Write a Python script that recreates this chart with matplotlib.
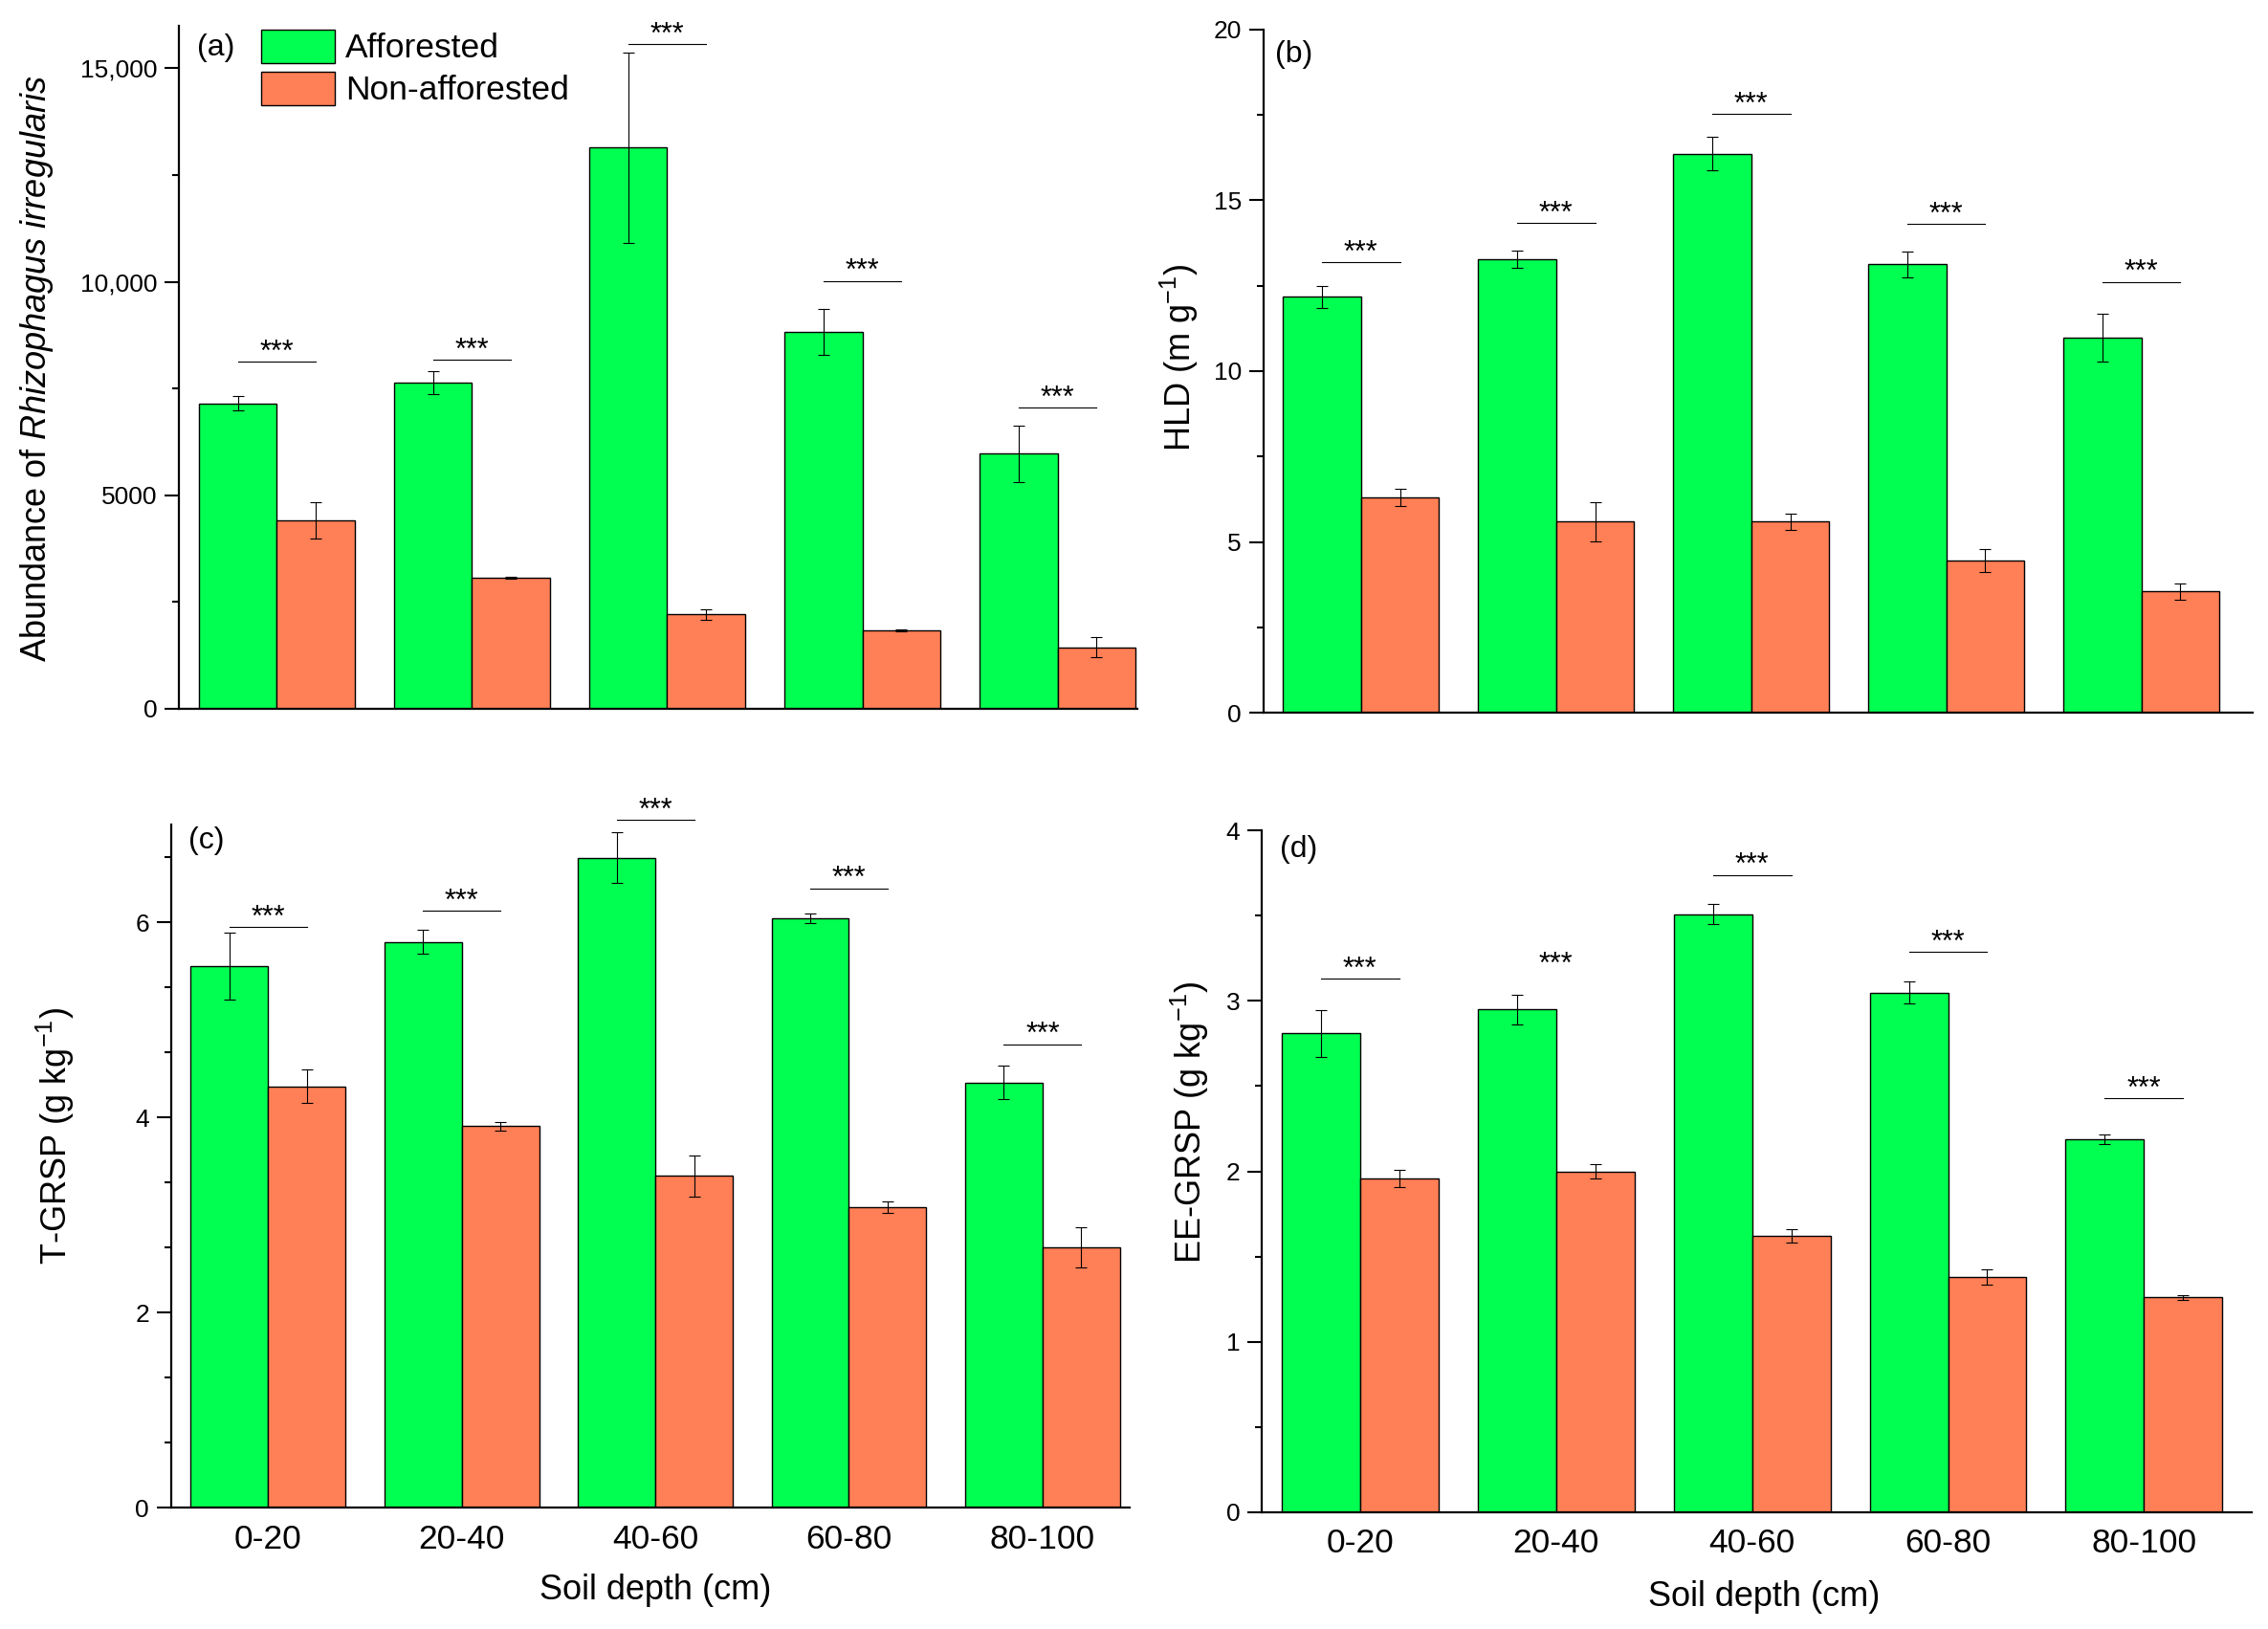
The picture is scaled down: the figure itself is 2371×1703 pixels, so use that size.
import matplotlib
matplotlib.use('Agg')
import matplotlib.pyplot as plt
from matplotlib.ticker import MultipleLocator, FixedLocator, FixedFormatter
import numpy as np

plt.rcParams['font.family'] = ['Liberation Sans', 'DejaVu Sans']
plt.rcParams['mathtext.fontset'] = 'custom'
plt.rcParams['mathtext.rm'] = 'Liberation Sans'
plt.rcParams['mathtext.it'] = 'Liberation Sans:italic'
plt.rcParams['mathtext.bf'] = 'Liberation Sans:bold'

# ---------------- data ----------------
depths = ['0-20', '20-40', '40-60', '60-80', '80-100']
series = ['Afforested', 'Non-afforested']
sig_label = '***'

# (a) Abundance of Rhizophagus irregularis
abund_aff = [7150, 7640, 13140, 8830, 5970]
abund_aff_se = [170, 260, 2230, 540, 670]
abund_non = [4410, 3070, 2210, 1840, 1440]
abund_non_se = [430, 30, 125, 20, 235]
abund_sig = [8120, 8180, 15560, 10020, 7060]

# (b) HLD
hld_aff = [12.17, 13.28, 16.36, 13.13, 10.98]
hld_aff_se = [0.33, 0.26, 0.49, 0.38, 0.70]
hld_non = [6.30, 5.59, 5.60, 4.46, 3.55]
hld_non_se = [0.26, 0.57, 0.24, 0.34, 0.24]
hld_sig = [13.18, 14.34, 17.52, 14.31, 12.61]

# (c) T-GRSP
tgrsp_aff = [5.55, 5.80, 6.66, 6.04, 4.36]
tgrsp_aff_se = [0.34, 0.12, 0.26, 0.05, 0.17]
tgrsp_non = [4.32, 3.91, 3.40, 3.08, 2.67]
tgrsp_non_se = [0.17, 0.045, 0.21, 0.055, 0.21]
tgrsp_sig = [5.95, 6.12, 7.05, 6.35, 4.75]

# (d) EE-GRSP
ee_aff = [2.81, 2.95, 3.51, 3.05, 2.19]
ee_aff_se = [0.137, 0.087, 0.058, 0.063, 0.028]
ee_non = [1.96, 2.00, 1.62, 1.38, 1.26]
ee_non_se = [0.05, 0.04, 0.038, 0.046, 0.014]
ee_sig = [3.13, 3.16, 3.74, 3.29, 2.43]
ee_sig_line = [True, False, True, True, True]

GREEN = '#00FF50'
CORAL = '#FF7F56'

fig = plt.figure(figsize=(23.71, 17.03), dpi=100)


def panel(rect, aff, aff_se, non, non_se, sig, ylim, major, minor, ylabel,
          letter, xmax, show_x, ylab_pos, letter_pos, sig_line=None,
          yticklabels=None):
    ax = fig.add_axes(rect)
    x = np.arange(len(depths))
    w = 0.4
    b1 = ax.bar(x - w / 2, aff, w, color=GREEN, edgecolor='black',
                linewidth=1.0, zorder=2, label=series[0])
    b2 = ax.bar(x + w / 2, non, w, color=CORAL, edgecolor='black',
                linewidth=1.0, zorder=2, label=series[1])
    ax.errorbar(x - w / 2, aff, yerr=aff_se, fmt='none', ecolor='black',
                elinewidth=0.8, capsize=4.5, capthick=0.8, zorder=3)
    ax.errorbar(x + w / 2, non, yerr=non_se, fmt='none', ecolor='black',
                elinewidth=0.8, capsize=4.5, capthick=0.8, zorder=3)
    for i, s in enumerate(sig):
        if sig_line is None or sig_line[i]:
            ax.plot([x[i] - w / 2, x[i] + w / 2], [s, s], color='black',
                    lw=0.8, clip_on=False, zorder=3)
        ax.annotate(sig_label, (x[i], s), xytext=(0, 1),
                    textcoords='offset points', ha='center', va='baseline',
                    fontsize=22, annotation_clip=False)
    ax.set_xlim(-0.5, xmax)
    ax.set_ylim(*ylim)
    ax.yaxis.set_major_locator(MultipleLocator(major))
    ax.yaxis.set_minor_locator(MultipleLocator(minor))
    if yticklabels is not None:
        ticks, labels = yticklabels
        ax.yaxis.set_major_locator(FixedLocator(ticks))
        ax.yaxis.set_major_formatter(FixedFormatter(labels))
    ax.set_xticks(x)
    if show_x:
        ax.set_xticklabels(depths)
        ax.set_xlabel('Soil depth (cm)', fontsize=26)
        ax.xaxis.set_label_coords(show_x[0], show_x[1])
        ax.xaxis.label.set_va('center')
    else:
        ax.set_xticklabels([])
    for sp in ['top', 'right']:
        ax.spines[sp].set_visible(False)
    for sp in ['left', 'bottom']:
        ax.spines[sp].set_linewidth(1.6)
        ax.spines[sp].set_zorder(4)
    ax.tick_params(axis='y', which='major', length=10.5, width=1.5,
                   labelsize=19, pad=6, direction='out')
    ax.tick_params(axis='y', which='minor', length=5, width=1.5,
                   direction='out')
    ax.tick_params(axis='x', which='both', length=0, labelsize=25.5, pad=12)
    ax.set_ylabel(ylabel, fontsize=26)
    ax.yaxis.set_label_coords(ylab_pos[0], ylab_pos[1])
    ax.yaxis.label.set_va('center')
    ax.text(letter_pos[0], letter_pos[1], letter, transform=ax.transAxes,
            fontsize=23, ha='left', va='center')
    return ax, b1, b2


axA, bA1, bA2 = panel([0.0790, 0.5649, 0.4226, 0.4194], abund_aff, abund_aff_se,
                      abund_non, abund_non_se, abund_sig, (0, 16000), 5000, 2500,
                      'Abundance of $\\mathit{Rhizophagus\\ irregularis}$', '(a)',
                      4.41, None, (-0.149, 0.498), (0.019, 0.967),
                      yticklabels=([0, 5000, 10000, 15000],
                                   ['0', '5000', '10,000', '15,000']))
axA.legend(handles=[bA1, bA2], labels=series, loc='upper left',
           bbox_to_anchor=(0.0852, 0.9947), borderaxespad=0, borderpad=0,
           frameon=False, fontsize=25.5, handlelength=2.19, handleheight=1.15,
           labelspacing=0.22, handletextpad=0.3)

panel([0.5571, 0.5625, 0.4361, 0.4194], hld_aff, hld_aff_se, hld_non,
      hld_non_se, hld_sig, (0, 20), 5, 2.5, 'HLD (m g$^{-1}$)', '(b)', 4.57,
      None, (-0.085, 0.52), (0.0116, 0.964))

panel([0.0755, 0.0744, 0.4226, 0.4193], tgrsp_aff, tgrsp_aff_se, tgrsp_non,
      tgrsp_non_se, tgrsp_sig, (0, 7), 2, 2 / 3, 'T-GRSP (g kg$^{-1}$)', '(c)',
      4.45, (0.505, -0.121), (-0.121, 0.544), (0.0177, 0.976))

panel([0.5564, 0.0718, 0.4365, 0.4183], ee_aff, ee_aff_se, ee_non, ee_non_se,
      ee_sig, (0, 4), 1, 0.5, 'EE-GRSP (g kg$^{-1}$)', '(d)', 4.55,
      (0.507, -0.124), (-0.073, 0.571), (0.018, 0.972), sig_line=ee_sig_line)

fig.savefig('out.png', dpi=100)
